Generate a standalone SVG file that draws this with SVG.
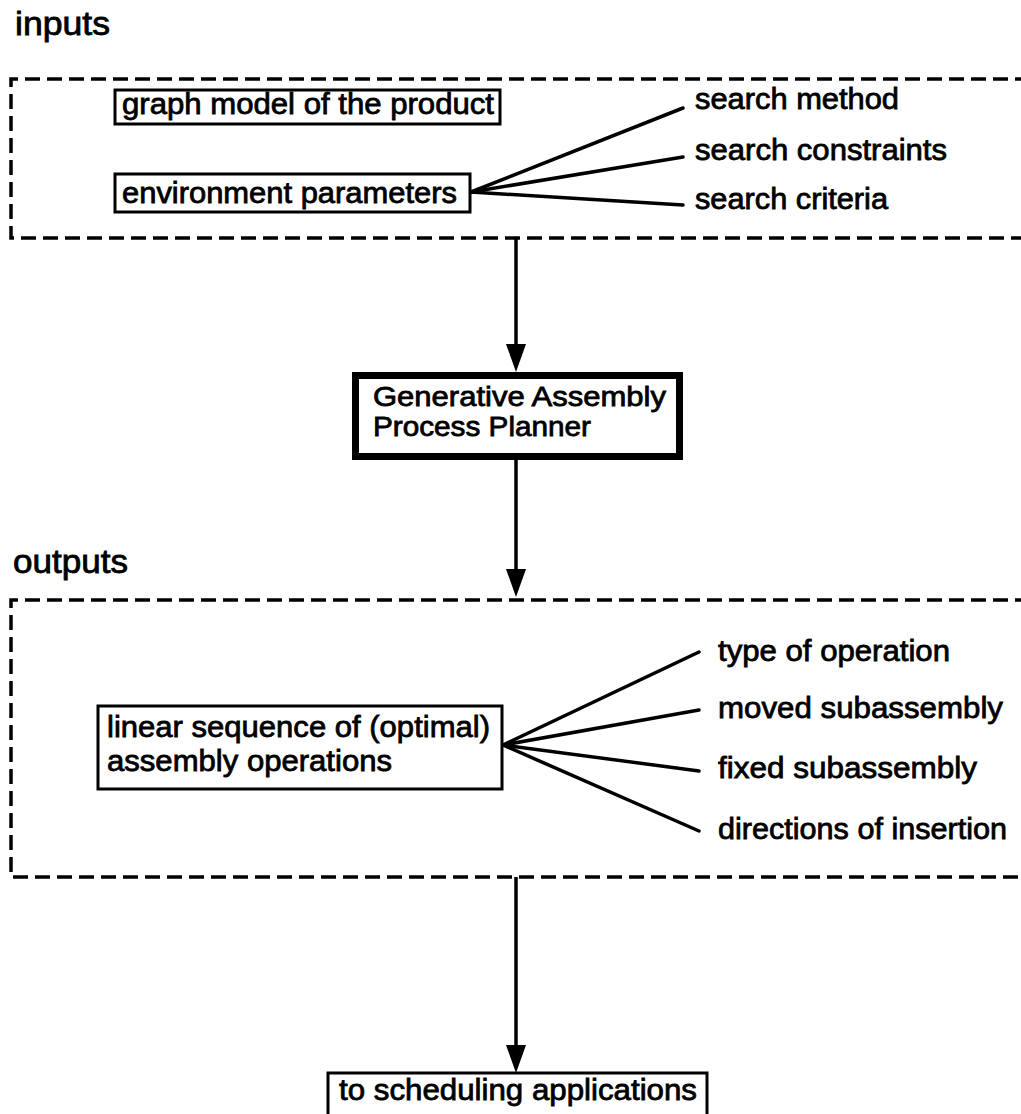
<svg xmlns="http://www.w3.org/2000/svg" width="1021" height="1114" viewBox="0 0 1021 1114">
  <style>
    text { font-family: "Liberation Sans", Arial, Helvetica, sans-serif; fill: #000; stroke: #000; stroke-width: 0.8; }
    .title { font-size: 33px; }
    .label { font-size: 30px; }
    .tight { font-size: 28px; }
    .box { fill: #fff; stroke: #000; stroke-width: 3; }
    .main { fill: #fff; stroke: #000; stroke-width: 7; }
    .group { fill: none; stroke: #000; stroke-width: 3.5; stroke-dasharray: 15 7; }
    .fan { fill: none; stroke: #000; stroke-width: 3.5; stroke-linecap: round; }
    .flow { fill: none; stroke: #000; stroke-width: 3.5; }
  </style>
  <defs>
    <marker id="arrow" viewBox="0 0 28 20" refX="18" refY="10" markerWidth="28" markerHeight="20" markerUnits="userSpaceOnUse" orient="auto">
      <path d="M0,0 L28,10 L0,20 Z" fill="#000"/>
    </marker>
  </defs>
  <rect width="1021" height="1114" fill="#fff"/>

  <!-- input group -->
  <g id="inputs">
    <text class="title" x="15" y="35" textLength="95" lengthAdjust="spacingAndGlyphs">inputs</text>
    <path class="group" d="M1030,79 H11 V238 H1030"/>
  </g>

  <g id="graph-model">
    <rect class="box" x="115" y="90" width="385" height="34"/>
    <text class="label" x="122" y="114" textLength="372" lengthAdjust="spacingAndGlyphs">graph model of the product</text>
  </g>

  <g id="environment-parameters">
    <rect class="box" x="115" y="174" width="355" height="38"/>
    <text class="label" x="122" y="203" textLength="335" lengthAdjust="spacingAndGlyphs">environment parameters</text>
  </g>

  <g id="search-method">
    <text class="label" x="695" y="109" textLength="204" lengthAdjust="spacingAndGlyphs">search method</text>
  </g>
  <g id="search-constraints">
    <text class="label" x="695" y="160" textLength="252" lengthAdjust="spacingAndGlyphs">search constraints</text>
  </g>
  <g id="search-criteria">
    <text class="label" x="695" y="209" textLength="193" lengthAdjust="spacingAndGlyphs">search criteria</text>
  </g>

  <g id="planner">
    <rect class="main" x="355.5" y="375.5" width="324" height="81"/>
    <text class="tight" x="373" y="406" textLength="293" lengthAdjust="spacingAndGlyphs">Generative Assembly</text>
    <text class="tight" x="373" y="436" textLength="218" lengthAdjust="spacingAndGlyphs">Process Planner</text>
  </g>

  <!-- output group -->
  <g id="outputs">
    <text class="title" x="13" y="573" textLength="115" lengthAdjust="spacingAndGlyphs">outputs</text>
    <path class="group" d="M1030,600 H11 V877 H1030"/>
  </g>

  <g id="linear-sequence">
    <rect class="box" x="98" y="706" width="404" height="83"/>
    <text class="label" x="107" y="737" textLength="383" lengthAdjust="spacingAndGlyphs">linear sequence of (optimal)</text>
    <text class="label" x="107" y="771" textLength="285" lengthAdjust="spacingAndGlyphs">assembly operations</text>
  </g>

  <g id="type-of-operation">
    <text class="label" x="718" y="661" textLength="232" lengthAdjust="spacingAndGlyphs">type of operation</text>
  </g>
  <g id="moved-subassembly">
    <text class="label" x="718" y="718" textLength="285" lengthAdjust="spacingAndGlyphs">moved subassembly</text>
  </g>
  <g id="fixed-subassembly">
    <text class="label" x="718" y="778" textLength="259" lengthAdjust="spacingAndGlyphs">fixed subassembly</text>
  </g>
  <g id="directions-of-insertion">
    <text class="label" x="718" y="839" textLength="289" lengthAdjust="spacingAndGlyphs">directions of insertion</text>
  </g>

  <g id="scheduling">
    <rect class="box" x="328" y="1073" width="379" height="60"/>
    <text class="label" x="339" y="1100" textLength="358" lengthAdjust="spacingAndGlyphs">to scheduling applications</text>
  </g>

  <!-- connectors -->
  <g id="connectors">
    <line class="fan" x1="471" y1="192" x2="683" y2="108"/>
    <line class="fan" x1="471" y1="192" x2="683" y2="157"/>
    <line class="fan" x1="471" y1="192" x2="683" y2="205"/>

    <line class="fan" x1="503" y1="745" x2="699" y2="652"/>
    <line class="fan" x1="503" y1="745" x2="699" y2="710"/>
    <line class="fan" x1="503" y1="745" x2="699" y2="771"/>
    <line class="fan" x1="503" y1="745" x2="699" y2="831"/>

    <line class="flow" x1="516" y1="238" x2="516" y2="362" marker-end="url(#arrow)"/>
    <line class="flow" x1="516" y1="460" x2="516" y2="587" marker-end="url(#arrow)"/>
    <line class="flow" x1="516" y1="877" x2="516" y2="1063" marker-end="url(#arrow)"/>
  </g>
</svg>
